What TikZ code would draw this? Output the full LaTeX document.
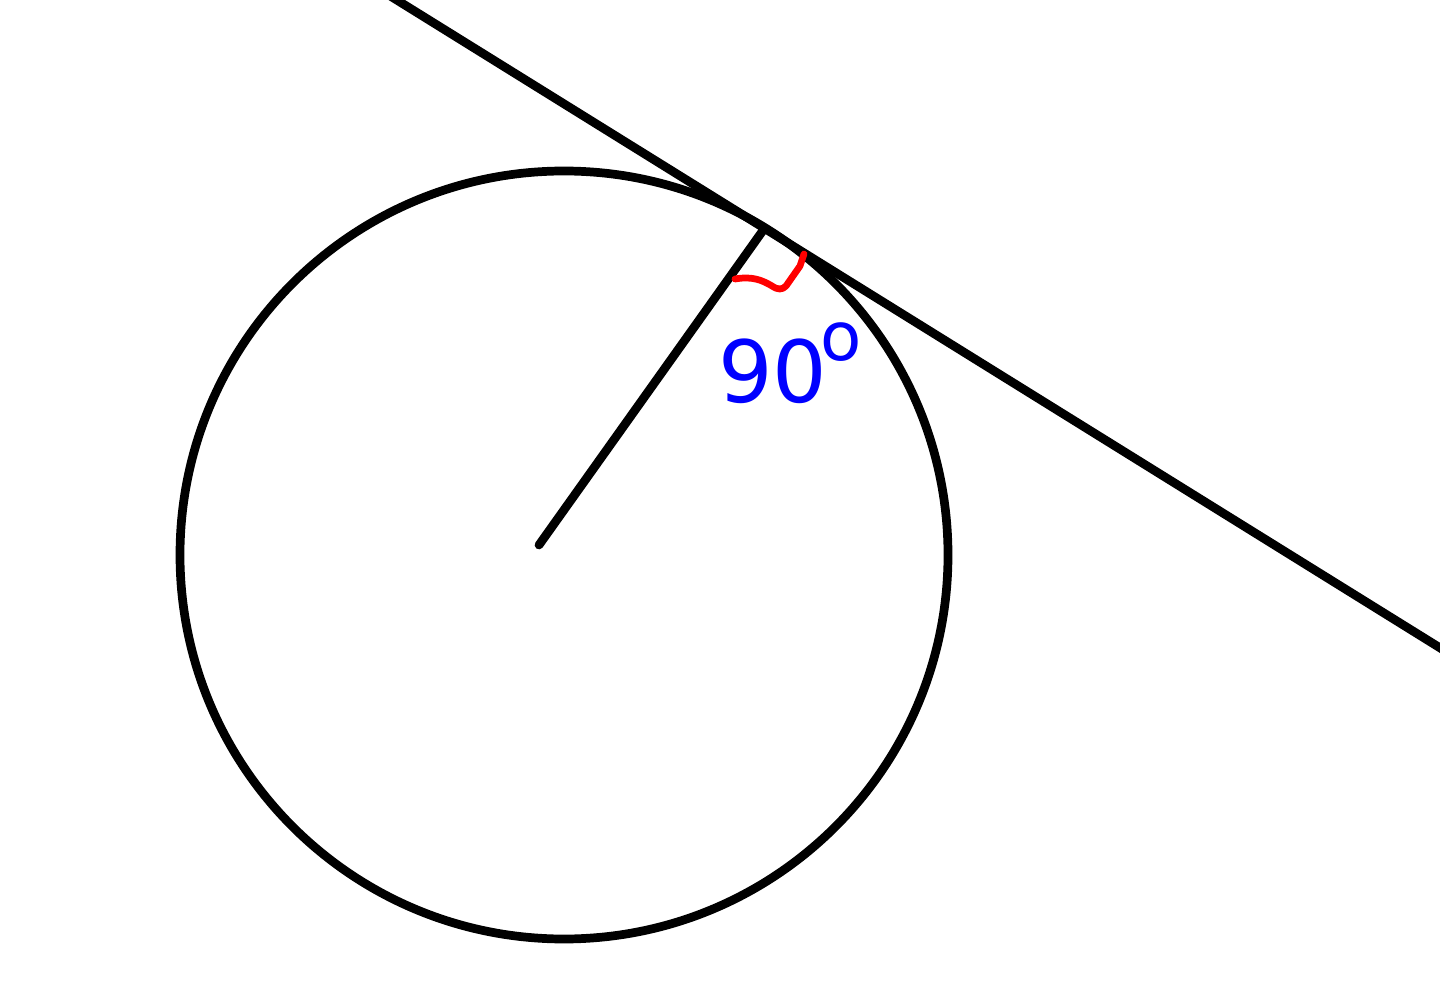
\documentclass[tikz,border=0pt]{standalone}
\usepackage{fontspec}
\newfontfamily\labelfont{DejaVu Sans}
\begin{document}
\begin{tikzpicture}[x=0.025cm,y=-0.025cm,
  blackline/.style={line width=6.2pt,black},
  rightmark/.style={line width=4.8pt,red,line cap=round,line join=round},
  anglelabel/.style={text=blue,font=\labelfont\fontsize{61}{70}\selectfont,inner sep=0pt,anchor=base west}]
\useasboundingbox (0,0) rectangle (1440,990);
\clip (0,0) rectangle (1440,990);
\fill[white] (0,0) rectangle (1440,990);
% circle
\draw[blackline] (564,555) circle[radius=384];
% tangent line
\coordinate (t1) at (371,-16);
\coordinate (t2) at (1466,664);
\draw[blackline] (t1) -- (t2);
% radius
\coordinate (o) at (539,545);
\coordinate (p) at (764,229);
\draw[blackline,line cap=round] (o) -- (p);
% right angle mark
\draw[rightmark] (735,279) .. controls (752,276) and (762,280) .. (772,286)
  .. controls (778,290) and (782,290) .. (786,286)
  -- (800,266) -- (804,254);
% label
\node[anglelabel] (lbl) at (718,403) {90\kern-5pt\raisebox{30pt}{\fontsize{48}{50}\selectfont o}};
\end{tikzpicture}
\end{document}
